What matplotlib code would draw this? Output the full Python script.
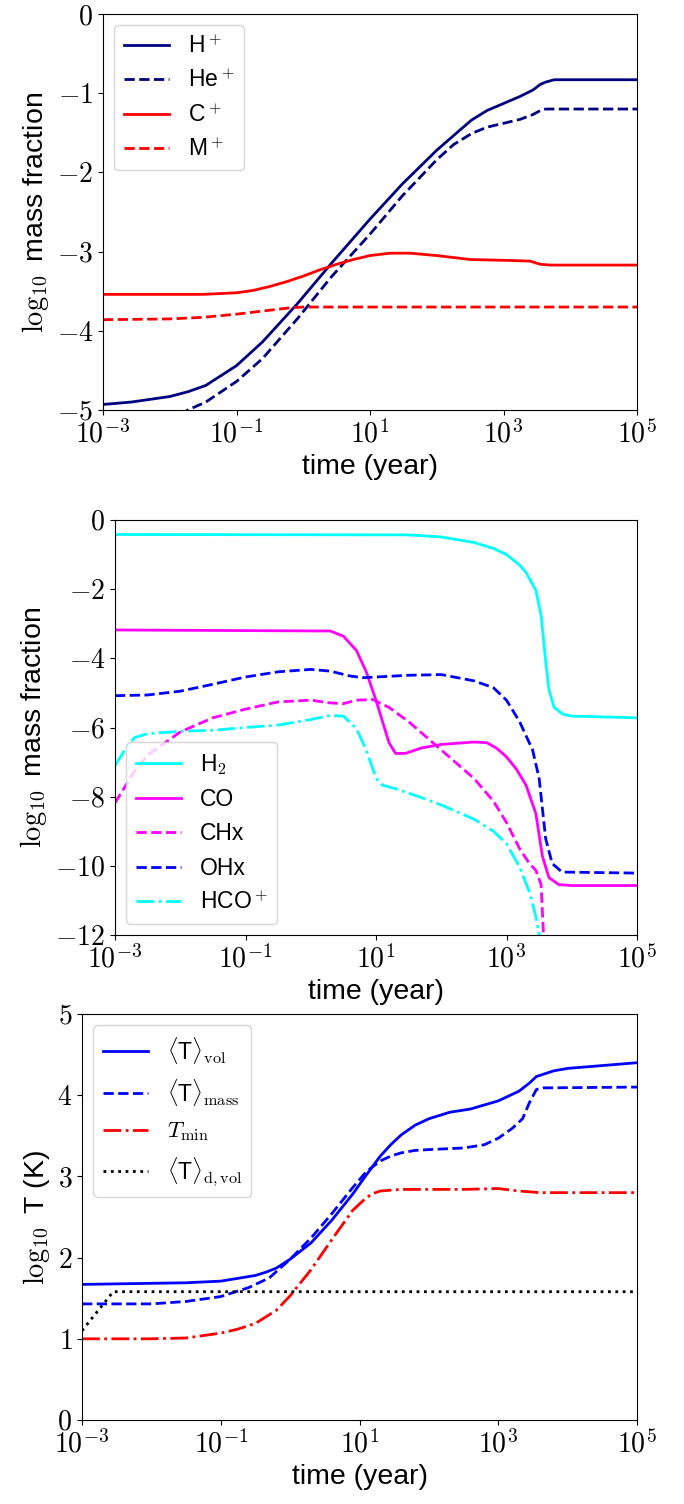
import numpy as np
import matplotlib
matplotlib.use("Agg")
import matplotlib.pyplot as plt
from matplotlib.ticker import FuncFormatter

plt.rcParams["font.family"] = ["Liberation Sans", "DejaVu Sans"]
plt.rcParams["mathtext.fontset"] = "cm"

# ---- panel 1: ions (log10 time, log10 mass fraction)
hp_logt = [-3, -2.58, -2.0, -1.73, -1.46, -1.0, -0.61, -0.09, 0.43, 1.0, 1.48, 2.0, 2.3, 2.52,
           2.75, 3.0, 3.25, 3.44, 3.55, 3.63, 3.76, 5]
hp_val = [-4.93, -4.90, -4.83, -4.77, -4.69, -4.44, -4.14, -3.66, -3.14, -2.59, -2.15, -1.72,
          -1.50, -1.34, -1.22, -1.13, -1.04, -0.96, -0.89, -0.86, -0.83, -0.83]
hep_logt = [-3, -2.2, -1.73, -1.46, -1.0, -0.61, -0.09, 0.43, 1.0, 1.48, 2.0, 2.25, 2.52, 2.75,
            3.0, 3.25, 3.44, 3.55, 3.63, 5]
hep_val = [-5.6, -5.3, -5.0, -4.9, -4.64, -4.35, -3.85, -3.31, -2.78, -2.30, -1.84, -1.65, -1.51,
           -1.43, -1.38, -1.33, -1.27, -1.22, -1.20, -1.20]
cp_logt = [-3, -1.5, -1.0, -0.75, -0.5, -0.25, 0.0, 0.25, 0.5, 0.75, 1.0, 1.3, 1.6, 2.0, 2.5,
           3.0, 3.4, 3.55, 3.7, 5]
cp_val = [-3.54, -3.54, -3.52, -3.49, -3.44, -3.38, -3.31, -3.23, -3.16, -3.10, -3.05, -3.02,
          -3.02, -3.05, -3.10, -3.11, -3.12, -3.16, -3.17, -3.17]
mp_logt = [-3, -2.0, -1.5, -1.0, -0.5, -0.2, 0.0, 5]
mp_val = [-3.86, -3.85, -3.83, -3.79, -3.74, -3.71, -3.70, -3.70]

# ---- panel 2: molecules
h2_logt = [-3, 1.5, 2.0, 2.5, 2.8, 3.0, 3.2, 3.3, 3.45, 3.53, 3.6, 3.65, 3.73, 3.87, 4.0, 5]
h2_val = [-0.42, -0.43, -0.49, -0.65, -0.82, -1.0, -1.3, -1.52, -2.03, -2.75, -4.08, -4.9,
          -5.42, -5.62, -5.67, -5.72]
co_logt = [-3, 0.3, 0.5, 0.7, 0.85, 1.0, 1.1, 1.2, 1.3, 1.45, 1.7, 2.0, 2.5, 2.7, 2.85, 3.0,
           3.15, 3.3, 3.45, 3.55, 3.65, 3.8, 4.0, 5]
co_val = [-3.18, -3.21, -3.36, -3.77, -4.39, -5.21, -5.83, -6.44, -6.75, -6.75, -6.59, -6.49,
          -6.42, -6.44, -6.6, -6.85, -7.2, -7.67, -8.49, -9.72, -10.34, -10.54, -10.57, -10.57]
chx_logt = [-3, -2.7, -2.5, -2.0, -1.5, -1.0, -0.5, 0.0, 0.3, 0.5, 0.7, 0.95, 1.2, 1.5, 2.0,
            2.5, 2.8, 3.0, 3.2, 3.35, 3.45, 3.53, 3.58]
chx_val = [-8.18, -7.26, -6.8, -6.13, -5.72, -5.47, -5.26, -5.21, -5.29, -5.31, -5.21, -5.19,
           -5.42, -5.83, -6.65, -7.47, -8.13, -8.75, -9.5, -9.93, -10.13, -10.54, -12.5]
ohx_logt = [-3, -2.5, -2.0, -1.5, -1.0, -0.5, 0.0, 0.3, 0.6, 0.8, 1.0, 1.5, 2.0, 2.5, 2.8,
            3.0, 3.2, 3.4, 3.5, 3.6, 3.7, 3.85, 5]
ohx_val = [-5.08, -5.06, -4.95, -4.75, -4.54, -4.39, -4.32, -4.37, -4.51, -4.56, -4.54, -4.49,
           -4.47, -4.65, -4.85, -5.21, -5.83, -6.65, -7.47, -9.21, -9.93, -10.18, -10.21]
hcop_logt = [-3, -2.85, -2.7, -2.5, -2.0, -1.5, -1.0, -0.5, 0.0, 0.3, 0.5, 0.7, 0.85, 1.0,
             1.1, 1.3, 1.7, 2.0, 2.5, 2.8, 3.0, 3.2, 3.35, 3.45, 3.55]
hcop_val = [-7.1, -6.65, -6.29, -6.18, -6.11, -6.08, -6.0, -5.93, -5.77, -5.65, -5.67, -6.03,
            -6.65, -7.47, -7.67, -7.77, -8.03, -8.24, -8.65, -9.0, -9.36, -10.03, -10.75,
            -11.47, -12.5]

# ---- panel 3: temperatures (log10 K)
tvol_logt = [-3, -1.5, -1.0, -0.5, -0.35, -0.2, 0.0, 0.3, 0.6, 0.9, 1.1, 1.3, 1.45, 1.6, 1.8,
             2.0, 2.3, 2.6, 3.0, 3.3, 3.45, 3.55, 3.8, 4.0, 5]
tvol_val = [1.67, 1.69, 1.71, 1.78, 1.82, 1.87, 1.98, 2.18, 2.46, 2.78, 3.02, 3.25, 3.39, 3.51,
            3.63, 3.71, 3.79, 3.83, 3.93, 4.05, 4.15, 4.23, 4.30, 4.33, 4.40]
tmass_logt = [-3, -2.0, -1.5, -1.0, -0.6, -0.3, 0.0, 0.3, 0.6, 0.9, 1.1, 1.3, 1.45, 1.6, 1.8,
              2.0, 2.5, 2.8, 3.0, 3.2, 3.35, 3.45, 3.55, 3.65, 5]
tmass_val = [1.43, 1.43, 1.46, 1.52, 1.63, 1.75, 1.98, 2.24, 2.54, 2.86, 3.06, 3.19, 3.25, 3.29,
             3.32, 3.33, 3.35, 3.39, 3.47, 3.59, 3.71, 3.91, 4.07, 4.09, 4.10]
tmin_logt = [-3, -2.0, -1.5, -1.0, -0.75, -0.5, -0.2, 0.0, 0.3, 0.6, 0.9, 1.1, 1.2, 1.3, 1.6,
             2.0, 2.5, 3.0, 3.3, 3.6, 5]
tmin_val = [1.0, 1.0, 1.01, 1.07, 1.12, 1.19, 1.35, 1.53, 1.85, 2.22, 2.58, 2.74, 2.79, 2.82,
            2.84, 2.84, 2.84, 2.85, 2.82, 2.80, 2.80]
tdust_logt = [-3, -2.55, 5]
tdust_val = [1.1, 1.58, 1.58]

W, H = 684, 1504


def px_axes(fig, left, top, right, bottom):
    # axes box given in pixel coordinates of the final image
    return fig.add_axes([left / W, (H - bottom) / H, (right - left) / W, (bottom - top) / H])


def tlin(logt):
    return 10.0 ** np.asarray(logt)


# tick labels in computer modern, like the original
xfmt = FuncFormatter(lambda v, p: r"$10^{%d}$" % int(round(np.log10(v))))
yfmt = FuncFormatter(lambda v, p: r"$%d$" % int(round(v)))

fig = plt.figure(figsize=(W / 100, H / 100), dpi=100)
lw = 2.0
tick_fs = 20
label_fs = 20.5
leg_fs = 16.5

# panel 1
ax1 = px_axes(fig, 103, 14, 637, 410)
ax1.plot(tlin(hp_logt), hp_val, color="navy", lw=lw, label=r"H$^+$")
ax1.plot(tlin(hep_logt), hep_val, color="navy", lw=lw, ls="--", label=r"He$^+$")
ax1.plot(tlin(cp_logt), cp_val, color="red", lw=lw, label=r"C$^+$")
ax1.plot(tlin(mp_logt), mp_val, color="red", lw=lw, ls="--", label=r"M$^+$")
ax1.set_ylim(-5, 0)
ax1.set_yticks(np.arange(-5, 1))
ax1.set_ylabel(r"$\log_{10}$ mass fraction", fontsize=label_fs)
ax1.legend(loc="upper left", fontsize=leg_fs)

# panel 2
ax2 = px_axes(fig, 115, 520, 637, 935)
ax2.plot(tlin(h2_logt), h2_val, color="cyan", lw=lw, label=r"H$_2$")
ax2.plot(tlin(co_logt), co_val, color="magenta", lw=lw, label="CO")
ax2.plot(tlin(chx_logt), chx_val, color="magenta", lw=lw, ls="--", label="CHx")
ax2.plot(tlin(ohx_logt), ohx_val, color="blue", lw=lw, ls="--", label="OHx")
ax2.plot(tlin(hcop_logt), hcop_val, color="cyan", lw=lw, ls="-.", label=r"HCO$^+$")
ax2.set_ylim(-12, 0)
ax2.set_yticks(np.arange(-12, 1, 2))
ax2.set_ylabel(r"$\log_{10}$ mass fraction", fontsize=label_fs)
ax2.legend(loc="lower left", fontsize=leg_fs)

# panel 3
ax3 = px_axes(fig, 82, 1014, 637, 1420)
ax3.plot(tlin(tvol_logt), tvol_val, color="blue", lw=lw, label=r"$\langle$T$\rangle_{\rm vol}$")
ax3.plot(tlin(tmass_logt), tmass_val, color="blue", lw=lw, ls="--",
         label=r"$\langle$T$\rangle_{\rm mass}$")
ax3.plot(tlin(tmin_logt), tmin_val, color="red", lw=lw, ls="-.", label=r"$T_{\rm min}$")
ax3.plot(tlin(tdust_logt), tdust_val, color="black", lw=lw, ls=":",
         label=r"$\langle$T$\rangle_{\rm d,vol}$")
ax3.set_ylim(0, 5)
ax3.set_yticks(np.arange(0, 6))
ax3.set_ylabel(r"$\log_{10}$ T (K)", fontsize=label_fs)
ax3.legend(loc="upper left", fontsize=leg_fs)

for ax in (ax1, ax2, ax3):
    ax.set_xscale("log")
    ax.set_xlim(1e-3, 1e5)
    ax.set_xticks([1e-3, 1e-1, 1e1, 1e3, 1e5])
    ax.xaxis.set_major_formatter(xfmt)
    ax.yaxis.set_major_formatter(yfmt)
    ax.set_xlabel("time (year)", fontsize=label_fs)
    ax.tick_params(axis="both", which="major", labelsize=tick_fs)

fig.savefig("out.png", dpi=100)
